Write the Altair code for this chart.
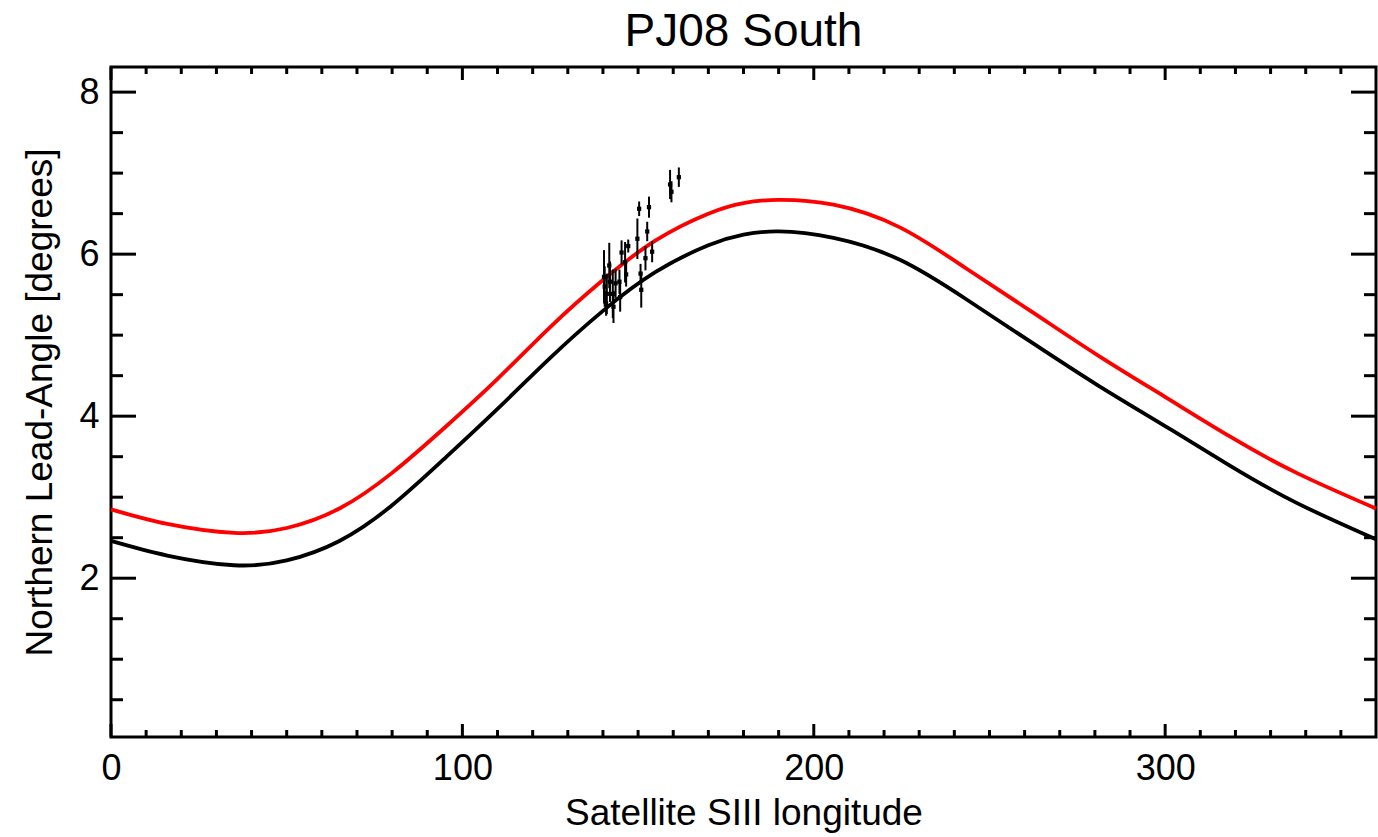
import altair as alt
import pandas as pd

# ---- data ----
lon_curve = [0, 16, 35, 50, 65, 80, 95, 110, 125, 140, 155, 170, 180, 190,
             205.6, 224.5, 243.5, 262, 280.5, 299.5, 318.4, 337.4, 360]
lead_black = [2.46, 2.28, 2.16, 2.22, 2.46, 2.90, 3.48, 4.09, 4.72, 5.30, 5.78, 6.11, 6.24, 6.28,
              6.20, 5.93, 5.44, 4.91, 4.39, 3.89, 3.39, 2.93, 2.48]
lead_red = [2.85, 2.67, 2.56, 2.62, 2.86, 3.30, 3.86, 4.46, 5.10, 5.68, 6.17, 6.50, 6.63, 6.67,
            6.61, 6.33, 5.82, 5.29, 4.76, 4.25, 3.75, 3.30, 2.86]

obs_lon = [161.6, 159.1, 159.5, 150.3, 153.1, 152.6, 149.8, 154.0, 152.1, 147.2, 145.3,
           146.3, 146.6, 150.7, 150.9, 140.3, 141.8, 142.0, 141.1, 143.6, 142.8, 144.9,
           140.9, 143.0, 144.7, 140.5]
obs_val = [6.95, 6.86, 6.77, 6.56, 6.58, 6.28, 6.19, 6.03, 5.95, 6.10, 6.02,
           5.90, 5.75, 5.76, 5.56, 5.72, 5.86, 5.66, 5.51, 5.64, 5.51, 5.47,
           5.39, 5.35, 5.66, 5.60]
obs_err = [0.12, 0.18, 0.13, 0.09, 0.13, 0.12, 0.25, 0.13, 0.15, 0.08, 0.15,
           0.25, 0.15, 0.12, 0.22, 0.33, 0.28, 0.25, 0.25, 0.18, 0.30, 0.18,
           0.15, 0.20, 0.15, 0.25]

x_major = [0, 100, 200, 300]
x_minor = [v for v in range(10, 360, 10) if v % 100 != 0]
y_major = [2, 4, 6, 8]
y_minor = [v / 2 for v in range(1, 17) if v % 4 != 0]

X_DOMAIN = [0, 360]
Y_DOMAIN = [0.04, 8.31]
W, H = 1265, 670
FONT = "Liberation Sans"
X_TITLE = "Satellite SIII longitude"
Y_TITLE = "Northern Lead-Angle [degrees]"

curves = pd.DataFrame({"lon": lon_curve, "black": lead_black, "red": lead_red})
obs = pd.DataFrame({"lon": obs_lon, "val": obs_val, "err": obs_err})
obs["lo"] = obs["val"] - obs["err"]
obs["hi"] = obs["val"] + obs["err"]

x_axis = alt.Axis(values=x_major, domain=False, ticks=False, tickSize=0, grid=False,
                  labelFontSize=36, labelFont=FONT, labelColor="black", labelPadding=14,
                  labelFlush=False,
                  titleFontSize=37, titleFont=FONT,
                  titleFontWeight="normal", titleColor="black",
                  titleBaseline="alphabetic", titleY=87)
y_axis = alt.Axis(values=y_major, domain=False, ticks=False, tickSize=0, grid=False,
                  labelFontSize=36, labelFont=FONT, labelColor="black", labelPadding=12,
                  labelFlush=False,
                  titleFontSize=37, titleFont=FONT,
                  titleFontWeight="normal", titleColor="black",
                  titleBaseline="alphabetic", titleX=-60, titleAngle=270)

XS = alt.Scale(domain=X_DOMAIN, nice=False, zero=False)
YS = alt.Scale(domain=Y_DOMAIN, nice=False, zero=False)


def xs(field):
    return alt.X(field, type="quantitative", scale=XS, axis=x_axis, title=X_TITLE)


def ys(field):
    return alt.Y(field, type="quantitative", scale=YS, axis=y_axis, title=Y_TITLE)


black_line = alt.Chart(curves).mark_line(color="black", strokeWidth=3.8,
                                          interpolate="natural").encode(
    x=xs("lon"), y=ys("black"))
red_line = alt.Chart(curves).mark_line(color="#ff0000", strokeWidth=3.8,
                                        interpolate="natural").encode(
    x=xs("lon"), y=ys("red"))

err_bars = alt.Chart(obs).mark_rule(color="black", strokeWidth=2).encode(
    x=xs("lon"), y=ys("lo"), y2="hi")
points = alt.Chart(obs).mark_square(color="black", size=18, opacity=1).encode(
    x=xs("lon"), y=ys("val"))

layers = [black_line, red_line, err_bars, points]

# inward ticks on all four sides
for vals, ln in ((x_major, 13), (x_minor, 7)):
    df = pd.DataFrame({"t": vals})
    layers.append(alt.Chart(df).mark_rule(color="black", strokeWidth=3).encode(
        x=xs("t"), y=alt.value(H), y2=alt.value(H - ln)))
    layers.append(alt.Chart(df).mark_rule(color="black", strokeWidth=3).encode(
        x=xs("t"), y=alt.value(0), y2=alt.value(ln)))
for vals, ln in ((y_major, 25), (y_minor, 12)):
    df = pd.DataFrame({"t": vals})
    layers.append(alt.Chart(df).mark_rule(color="black", strokeWidth=3).encode(
        y=ys("t"), x=alt.value(0), x2=alt.value(ln)))
    layers.append(alt.Chart(df).mark_rule(color="black", strokeWidth=3).encode(
        y=ys("t"), x=alt.value(W), x2=alt.value(W - ln)))

chart = alt.layer(*layers).properties(
    width=W, height=H,
    title=alt.TitleParams("PJ08 South", fontSize=46, font=FONT, fontWeight="normal",
                          color="black", anchor="middle", offset=10),
    autosize=alt.AutoSizeParams(type="none"),
    padding={"left": 111, "top": 67, "right": 2, "bottom": 100},
    background="white",
).configure_view(stroke="black", strokeWidth=3)

chart.save("out.html", embed_options={"renderer": "svg", "actions": False})
